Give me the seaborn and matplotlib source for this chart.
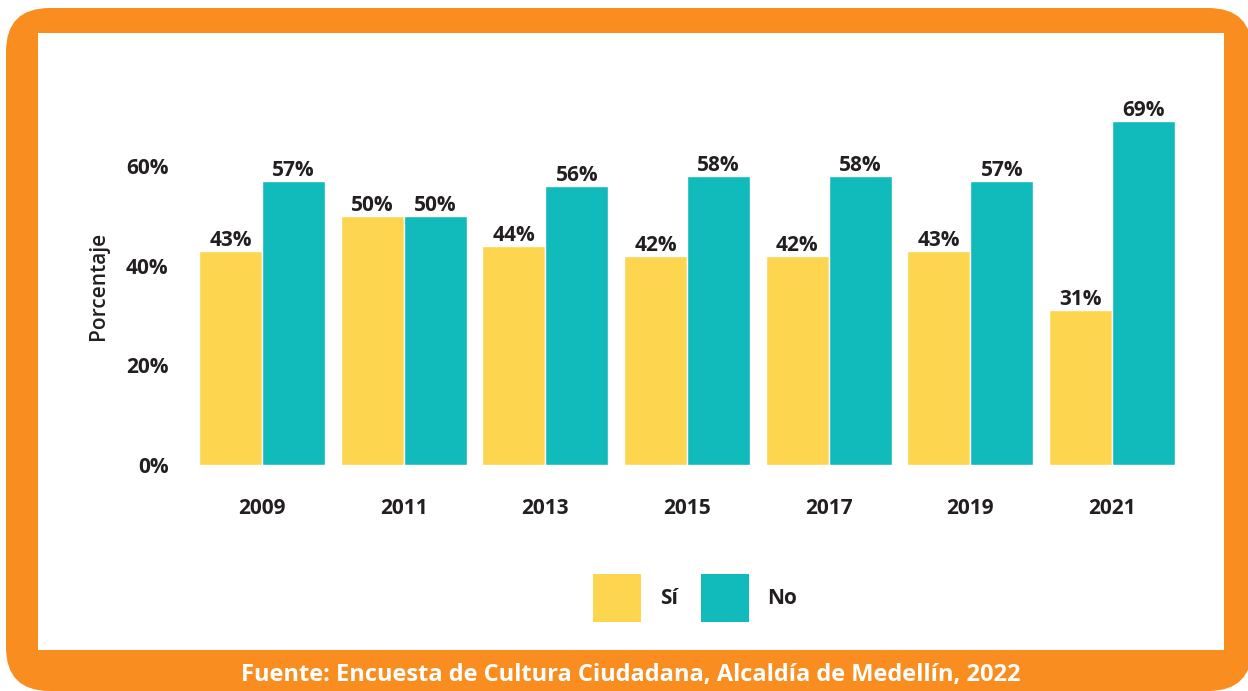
import matplotlib
matplotlib.use("Agg")
import matplotlib.pyplot as plt
from matplotlib.patches import FancyBboxPatch, Rectangle, Patch
import seaborn as sns
import pandas as pd

years = ["2009", "2011", "2013", "2015", "2017", "2019", "2021"]
si = [43, 50, 44, 42, 42, 43, 31]
no = [57, 50, 56, 58, 58, 57, 69]
groups = ["Sí", "No"]
yticks = [0, 20, 40, 60]

YELLOW = "#FDD54F"
TEAL = "#12BBBB"
ORANGE = "#F98D1F"
TXT = "#231F20"

df = pd.DataFrame({
    "year": years * 2,
    "pct": si + no,
    "resp": ["Sí"] * len(years) + ["No"] * len(years),
})

sns.set_theme(style="white")
plt.rcParams["font.family"] = ["Open Sans", "DejaVu Sans"]

W, H = 1248, 691
fig = plt.figure(figsize=(W / 100, H / 100), dpi=100)

# orange rounded frame + white panel
frame = FancyBboxPatch((6 / W, 0), (1252 - 6) / W, (691 - 8) / H,
                       boxstyle="round,pad=0,rounding_size=0.035",
                       transform=fig.transFigure, facecolor=ORANGE,
                       edgecolor="none", mutation_aspect=W / H, zorder=0)
fig.patches.append(frame)
panel = Rectangle((38 / W, (H - 650) / H), (1224 - 38) / W, (650 - 33) / H,
                  transform=fig.transFigure, facecolor="white",
                  edgecolor="none", zorder=1)
fig.patches.append(panel)

ax = fig.add_axes([177 / W, (H - 465) / H, (1197 - 177) / W, (465 - 106) / H])
ax.set_zorder(3)
ax.set_facecolor("none")
sns.barplot(data=df, x="year", y="pct", hue="resp", hue_order=groups,
            palette=[YELLOW, TEAL], saturation=1, width=0.89,
            edgecolor="white", linewidth=1, ax=ax, legend=False)

for cont in ax.containers:
    ax.bar_label(cont, labels=[f"{v:.0f}%" for v in cont.datavalues],
                 padding=0, fontsize=15, fontweight="bold", color=TXT)

ax.set_ylim(0, 72)
ax.set_xlim(-0.6, 6.6)
ax.set_yticks(yticks)
ax.set_yticklabels([f"{t}%" for t in yticks], fontsize=15,
                   fontweight="bold", color=TXT)
ax.tick_params(axis="y", length=0, pad=6)
ax.tick_params(axis="x", length=0, pad=24, labelsize=15, labelcolor=TXT)
for lab in ax.get_xticklabels():
    lab.set_fontweight("bold")
ax.set_xlabel("")
ax.set_ylabel("Porcentaje", fontsize=15, fontweight="semibold", color=TXT,
              labelpad=12)
sns.despine(ax=ax, left=True, bottom=True)

handles = [Patch(facecolor=YELLOW, edgecolor="none"),
           Patch(facecolor=TEAL, edgecolor="none")]
leg = fig.legend(handles, groups, loc="center",
                 bbox_to_anchor=(0.557, 1 - 598 / H), ncol=2, frameon=False,
                 handlelength=2.3, handleheight=3.2, handletextpad=0.9,
                 columnspacing=1.1, prop={"weight": "bold", "size": 15})
for t in leg.get_texts():
    t.set_color(TXT)

fig.text(631 / W, 1 - 675 / H,
         "Fuente: Encuesta de Cultura Ciudadana, Alcaldía de Medellín, 2022",
         ha="center", va="center", color="white", fontsize=17,
         fontweight="bold", zorder=5)

fig.savefig("out.png", dpi=100)
